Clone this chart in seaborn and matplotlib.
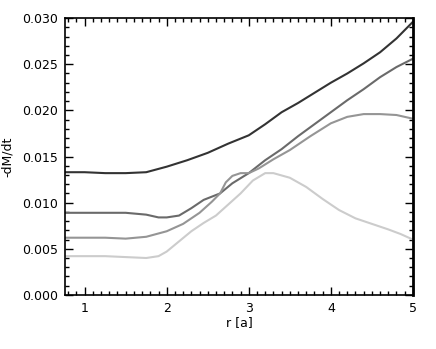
import numpy as np
import pandas as pd
import matplotlib
matplotlib.use("Agg")
import matplotlib.pyplot as plt
import seaborn as sns
from matplotlib.ticker import MultipleLocator, FormatStrFormatter

# ===== Data =====
r_dark = [0.76, 1.0, 1.25, 1.5, 1.75, 2.0, 2.25, 2.5, 2.75, 3.0, 3.2, 3.4, 3.6, 3.8, 4.0, 4.2, 4.4, 4.6, 4.8, 5.0]
m_dark = [0.0133, 0.0133, 0.0132, 0.0132, 0.0133, 0.0139, 0.0146, 0.0154, 0.0164, 0.0173, 0.0185, 0.0198, 0.0208,
          0.0219, 0.0230, 0.0240, 0.0251, 0.0263, 0.0278, 0.0296]

r_mid = [0.76, 1.0, 1.25, 1.5, 1.75, 1.9, 2.0, 2.15, 2.3, 2.45, 2.65, 2.8, 3.0, 3.2, 3.4, 3.6, 3.8, 4.0, 4.2, 4.4,
         4.6, 4.8, 5.0]
m_mid = [0.0089, 0.0089, 0.0089, 0.0089, 0.0087, 0.0084, 0.0084, 0.0086, 0.0094, 0.0103, 0.0110, 0.0121, 0.0132,
         0.0146, 0.0158, 0.0172, 0.0185, 0.0198, 0.0211, 0.0223, 0.0236, 0.0247, 0.0256]

r_grey = [0.76, 1.0, 1.25, 1.5, 1.75, 2.0, 2.2, 2.4, 2.55, 2.65, 2.72, 2.8, 2.9, 3.0, 3.12, 3.3, 3.5, 3.75, 4.0,
          4.2, 4.4, 4.6, 4.8, 5.0]
m_grey = [0.0062, 0.0062, 0.0062, 0.0061, 0.0063, 0.0069, 0.0077, 0.0089, 0.0101, 0.0110, 0.0122, 0.0129, 0.0132,
          0.0132, 0.0137, 0.0147, 0.0157, 0.0172, 0.0186, 0.0193, 0.0196, 0.0196, 0.0195, 0.0191]

r_light = [0.76, 1.0, 1.25, 1.5, 1.75, 1.9, 2.0, 2.15, 2.3, 2.45, 2.6, 2.75, 2.9, 3.05, 3.2, 3.3, 3.5, 3.7, 3.9,
           4.1, 4.3, 4.5, 4.7, 4.85, 5.0]
m_light = [0.0042, 0.0042, 0.0042, 0.0041, 0.0040, 0.0042, 0.0047, 0.0058, 0.0069, 0.0078, 0.0086, 0.0098, 0.0110,
           0.0124, 0.0132, 0.0132, 0.0127, 0.0117, 0.0104, 0.0092, 0.0083, 0.0077, 0.0071, 0.0066, 0.0060]

curves = [(r_dark, m_dark, "#333333"),
          (r_mid, m_mid, "#6a6a6a"),
          (r_grey, m_grey, "#959595"),
          (r_light, m_light, "#cccccc")]

sns.set_style("ticks")
plt.rcParams['font.family'] = ['DejaVu Sans']

fig = plt.figure(figsize=(4.36, 3.49), dpi=100)
ax = fig.add_axes([0.149, 0.155, 0.798, 0.793])

for rr, mm, col in curves:
    df = pd.DataFrame({"r": rr, "mdot": mm})
    sns.lineplot(data=df, x="r", y="mdot", color=col, linewidth=1.5, ax=ax)

ax.set_xlim(0.76, 5.0)
ax.set_ylim(0.0, 0.030)
ax.xaxis.set_major_locator(MultipleLocator(1))
ax.xaxis.set_minor_locator(MultipleLocator(0.1))
ax.yaxis.set_major_locator(MultipleLocator(0.005))
ax.yaxis.set_minor_locator(MultipleLocator(0.001))
ax.yaxis.set_major_formatter(FormatStrFormatter("%.3f"))
ax.tick_params(which="both", direction="in", top=True, right=True, labelsize=9, width=1.0, color="black",
               labelcolor="black")
ax.tick_params(which="major", length=6, pad=5)
ax.tick_params(which="minor", length=3)
for s in ax.spines.values():
    s.set_linewidth(1.2)
    s.set_color("black")
ax.spines["right"].set_linewidth(2.0)

ax.set_xlabel("r [a]", fontsize=9, labelpad=1, color="black")
ax.set_ylabel("-dM/dt", fontsize=9, labelpad=6, color="black")

fig.savefig("out.png", dpi=100)
